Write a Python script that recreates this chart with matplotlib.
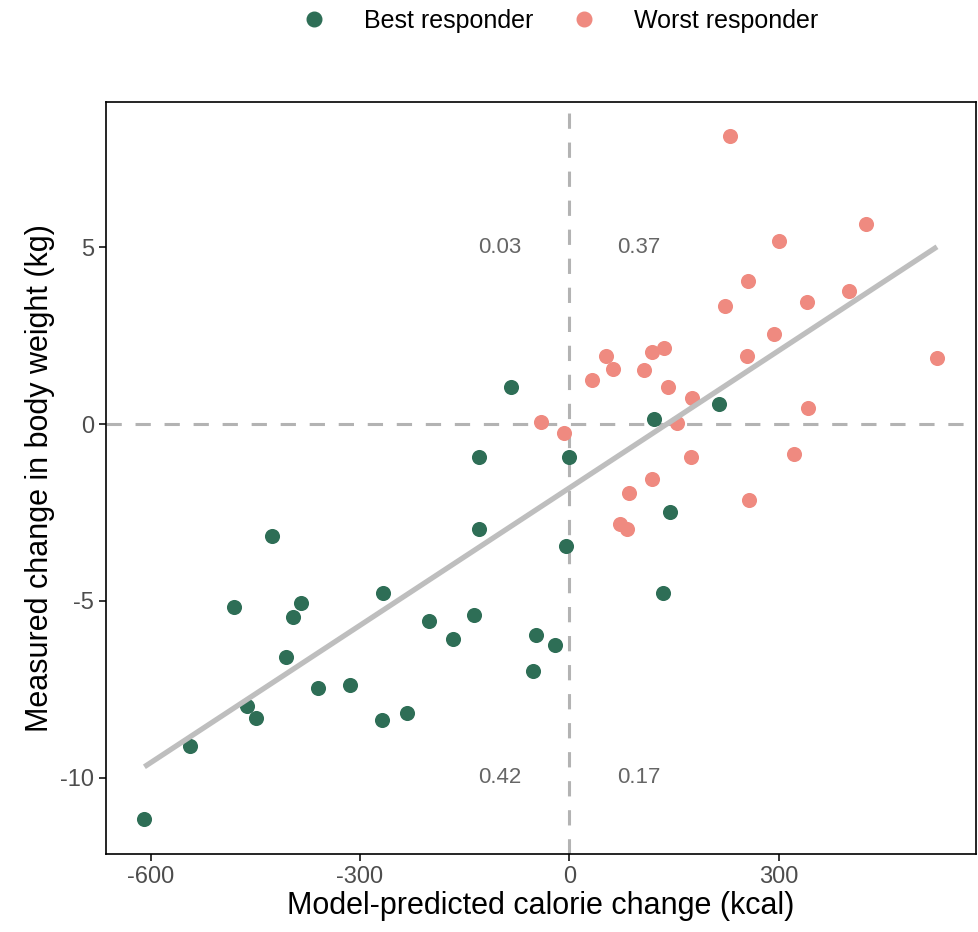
import numpy as np
import matplotlib
matplotlib.use("Agg")
import matplotlib.pyplot as plt
from matplotlib.lines import Line2D

plt.rcParams['font.family'] = ['Liberation Sans', 'DejaVu Sans']
plt.rcParams['axes.unicode_minus'] = False

# best responders (green)
best_x = [-609, -543, -426, -481, -384, -396, -406, -462, -449, -360, -315, -267,
          -201, -268, -232, -84, -130, 0, -129, -5, -167, -137, -48, -20, -52,
          122, 145, 134, 214]
best_y = [-11.18, -9.10, -3.17, -5.17, -5.07, -5.46, -6.58, -7.97, -8.30, -7.47,
          -7.39, -4.77, -5.57, -8.37, -8.18, 1.06, -0.94, -0.94, -2.98, -3.45,
          -6.07, -5.39, -5.96, -6.26, -6.99, 0.14, -2.48, -4.77, 0.56]

# worst responders (salmon)
worst_x = [-40, -8, 33, 62, 52, 107, 142, 154, 174, 119, 86, 72, 83, 176,
           231, 425, 300, 256, 223, 340, 401, 294, 255, 527, 118, 136, 342, 322, 257]
worst_y = [0.05, -0.26, 1.24, 1.55, 1.93, 1.53, 1.06, 0.04, -0.94, -1.56, -1.96,
           -2.83, -2.97, 0.73, 8.16, 5.65, 5.17, 4.05, 3.35, 3.46, 3.76, 2.55,
           1.93, 1.86, 2.05, 2.14, 0.44, -0.86, -2.15]

quad_labels = ["0.03", "0.37", "0.42", "0.17"]
quad_x = [-100, 100, -100, 100]
quad_y = [5, 5, -10, -10]

green = "#2E6E56"
salmon = "#EF8A80"

fig = plt.figure(figsize=(9.79, 9.32), dpi=100)
ax = fig.add_axes([0.1083, 0.0837, 0.8887, 0.8073])

ax.axhline(0, color="#B3B3B3", lw=2.2, dashes=(5, 4.5), zorder=1)
ax.axvline(0, color="#B3B3B3", lw=2.2, dashes=(5, 4.5), zorder=1)

ax.scatter(best_x, best_y, s=118, color=green, linewidths=0, zorder=3)
ax.scatter(worst_x, worst_y, s=118, color=salmon, linewidths=0, zorder=3)

# linear fit over all points
all_x = np.array(best_x + worst_x, dtype=float)
all_y = np.array(best_y + worst_y, dtype=float)
k, b0 = np.polyfit(all_x, all_y, 1)
xs = np.array([all_x.min(), all_x.max()])
ax.plot(xs, k * xs + b0, color="#BEBEBE", lw=3.8, zorder=4, solid_capstyle="butt")

for lab, qx, qy in zip(quad_labels, quad_x, quad_y):
    ax.text(qx, qy, lab, ha="center", va="center", fontsize=16, color="#666666")

ax.set_xlim(-664, 583)
ax.set_ylim(-12.16, 9.12)
ax.set_xticks([-600, -300, 0, 300])
ax.set_yticks([-10, -5, 0, 5])
ax.tick_params(labelsize=17, colors="black", labelcolor="#4D4D4D",
               length=5, width=1.1)
for sp in ax.spines.values():
    sp.set_linewidth(1.2)

ax.set_xlabel("Model-predicted calorie change (kcal)", fontsize=22, labelpad=2)
ax.set_ylabel("Measured change in body weight (kg)", fontsize=22, labelpad=4)

handles = [Line2D([], [], marker="o", ls="", color=green, markersize=10.5),
           Line2D([], [], marker="o", ls="", color=salmon, markersize=10.5)]
fig.legend(handles, ["Best responder", "Worst responder"], loc="center",
           bbox_to_anchor=(0.573, 0.978), ncol=2, frameon=False, fontsize=18,
           handlelength=0.8, handletextpad=1.6, columnspacing=1.6)

fig.savefig("out.png", dpi=100)
